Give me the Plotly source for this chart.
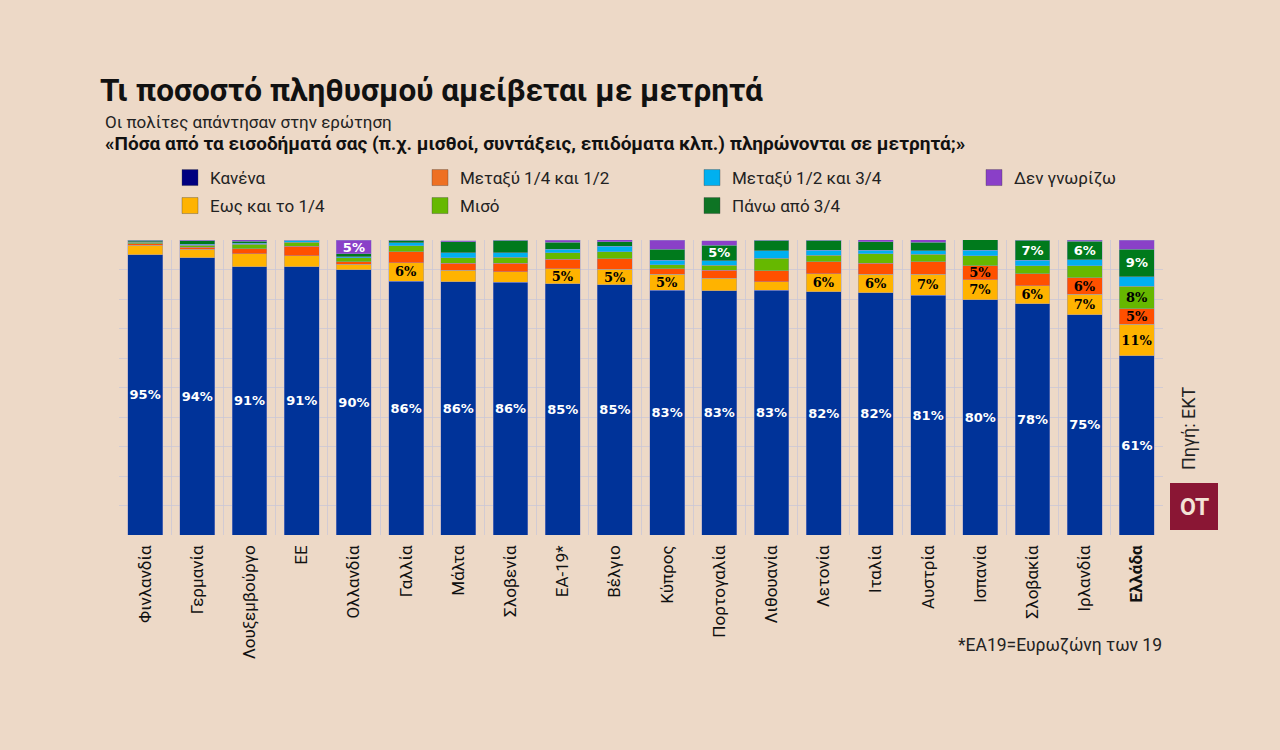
import plotly.graph_objects as go

# ---------------- data ----------------
countries = ["Φινλανδία", "Γερμανία", "Λουξεμβούργο", "ΕΕ", "Ολλανδία", "Γαλλία", "Μάλτα",
             "Σλοβενία", "ΕΑ-19*", "Βέλγιο", "Κύπρος", "Πορτογαλία", "Λιθουανία", "Λετονία",
             "Ιταλία", "Αυστρία", "Ισπανία", "Σλοβακία", "Ιρλανδία", "Ελλάδα"]

kanena = [95.0, 94.0, 91.0, 91.0, 90.0, 86.1, 85.8, 85.6, 85.2, 84.8, 83.0, 82.8, 83.0, 82.4,
          82.1, 81.2, 79.7, 78.4, 74.6, 60.7]
eos_1_4 = [3.3, 2.9, 4.3, 3.6, 1.7, 6.2, 3.9, 3.6, 5.0, 5.3, 5.4, 4.3, 2.9, 6.1, 6.3, 7.2, 6.8,
           6.1, 7.0, 10.8]
metaxy_14_12 = [0.5, 0.7, 1.8, 3.2, 0.9, 3.8, 2.5, 2.9, 3.2, 3.6, 1.8, 2.7, 3.6, 4.1, 3.8, 4.3,
                4.7, 4.1, 5.6, 5.2]
miso = [0.4, 0.7, 1.4, 1.5, 1.4, 2.0, 1.8, 2.0, 2.3, 2.3, 1.4, 1.6, 4.3, 2.3, 3.2, 2.5, 3.4,
        2.7, 4.1, 7.7]
metaxy_12_34 = [0.2, 0.3, 0.45, 0.7, 0.3, 0.9, 1.6, 1.6, 1.1, 1.8, 1.6, 1.6, 2.5, 1.6, 1.1, 1.1,
                2.0, 1.8, 2.0, 3.2]
pano_34 = [0.6, 1.1, 0.7, 0.0, 1.0, 0.9, 3.8, 4.3, 2.5, 1.6, 3.6, 5.2, 3.6, 3.4, 2.9, 2.9, 3.6,
           6.8, 6.2, 9.3]
den_gnorizo = [0.0, 0.2, 0.45, 0.0, 4.6, 0.1, 0.4, 0.0, 0.7, 0.7, 3.2, 1.6, 0.0, 0.0, 0.7, 0.9,
               0.0, 0.2, 0.4, 3.1]

series_names = ["Κανένα", "Εως και το 1/4", "Μεταξύ 1/4 και 1/2", "Μισό",
                "Μεταξύ 1/2 και 3/4", "Πάνω από 3/4", "Δεν γνωρίζω"]
series_values = [kanena, eos_1_4, metaxy_14_12, miso, metaxy_12_34, pano_34, den_gnorizo]

# ---------------- styles ----------------
BG = "#EDD9C7"
bar_colors = ["#003399", "#FFB300", "#FF5000", "#66B800", "#00B0F0", "#007A1C", "#8A40C8"]
legend_colors = ["#000080", "#FFB300", "#EE7022", "#66B800", "#00B0F0", "#0E7424", "#8A3FC8"]
label_white = [True, False, False, False, True, True, True]
# order: Κανένα(r1c1), Εως(r2c1), 1/4-1/2(r1c2), Μισό(r2c2), 1/2-3/4(r1c3), Πάνω(r2c3), Δεν(r1c4)
legend_ids = ["legend", "legend2", "legend3", "legend4", "legend5", "legend6", "legend7"]
legend_pos = {
    "legend": (210, 178), "legend2": (210, 206),
    "legend3": (460, 178), "legend4": (460, 206),
    "legend5": (732, 178), "legend6": (732, 206),
    "legend7": (1014, 178),
}

W, H = 1280, 750
L, R, T, B = 119, 1163, 239.7, 535


def px(x):
    return (x - L) / (R - L)


def py(y):
    return (B - y) / (B - T)


tick_text = [f"<b>{c}</b>" if c == "Ελλάδα" else c for c in countries]

fig = go.Figure()
for name, vals, col, white in zip(series_names, series_values, bar_colors, label_white):
    texts = []
    for v in vals:
        r = int(v + 0.5)
        texts.append(f"{r}%" if r >= 5 else "")
    fig.add_trace(go.Bar(
        x=countries, y=vals, name=name, showlegend=False,
        marker=dict(color=col, line=dict(color="rgba(150,150,200,0.55)", width=0.8)),
        text=texts, texttemplate="%{text}", textposition="inside",
        insidetextanchor="middle", textangle=0,
        insidetextfont=dict(
            family="DejaVu Sans" if white else "DejaVu Serif",
            size=13, color="white" if white else "black", weight="bold"),
        hoverinfo="x+y+name",
    ))

for name, col, lid in zip(series_names, legend_colors, legend_ids):
    fig.add_trace(go.Scatter(
        x=[None], y=[None], mode="markers", name=name, legend=lid,
        marker=dict(symbol="square", size=16, color=col,
                    line=dict(color="rgba(60,60,60,0.35)", width=1)),
        hoverinfo="skip",
    ))

layout_legends = {}
for lid in legend_ids:
    tx, ty = legend_pos[lid]
    layout_legends[lid] = dict(
        xref="container", yref="container",
        x=(tx - 40) / W, y=1 - ty / H, xanchor="left", yanchor="middle",
        bgcolor="rgba(0,0,0,0)", borderwidth=0,
        font=dict(family="Roboto", size=17, color="#222"),
        itemclick=False, itemdoubleclick=False,
    )

grid_col = "rgba(200,198,215,0.75)"
fig.update_layout(
    width=W, height=H,
    margin=dict(l=L, r=W - R, t=T, b=H - B, autoexpand=False),
    paper_bgcolor=BG, plot_bgcolor=BG,
    barmode="stack", bargap=0.33,
    uniformtext=dict(minsize=13, mode="show"),
    font=dict(family="Roboto", color="#111"),
    xaxis=dict(
        tickmode="array", tickvals=countries, ticktext=tick_text,
        tickangle=-90, tickfont=dict(family="Roboto", size=17, color="#111"),
        showgrid=True, gridcolor=grid_col, gridwidth=1, tickson="boundaries",
        ticks="", ticklabelstandoff=6, showline=False, zeroline=False,
        range=[-0.5, len(countries) - 0.5], fixedrange=True,
    ),
    yaxis=dict(
        range=[0, 100], dtick=10, showgrid=True, gridcolor=grid_col, gridwidth=1,
        showticklabels=False, zeroline=False, showline=False, fixedrange=True,
    ),
    showlegend=True,
    **layout_legends,
)

annotations = [
    dict(text="<b>Τι ποσοστό πληθυσμού αμείβεται με μετρητά</b>", x=px(98), y=py(90),
         xanchor="left", yanchor="middle", font=dict(family="Roboto", size=31.5, color="#111")),
    dict(text="Οι πολίτες απάντησαν στην ερώτηση", x=px(103), y=py(122),
         xanchor="left", yanchor="middle", font=dict(family="Roboto", size=17, color="#222")),
    dict(text="<b>«Πόσα από τα εισοδήματά σας (π.χ. μισθοί, συντάξεις, επιδόματα κλπ.) πληρώνονται σε μετρητά;»</b>",
         x=px(103), y=py(143), xanchor="left", yanchor="middle",
         font=dict(family="Roboto", size=19, color="#111")),
    dict(text="Πηγή: ΕΚΤ", x=px(1188), y=py(428), textangle=-90,
         xanchor="center", yanchor="middle", font=dict(family="Roboto", size=18, color="#222")),
    dict(text="<b>OT</b>", x=px(1194), y=py(507), xanchor="center", yanchor="middle",
         font=dict(family="Roboto", size=23, color="#F3E3D6")),
    dict(text="*ΕΑ19=Ευρωζώνη των 19", x=px(1164), y=py(645), xanchor="right",
         yanchor="middle", font=dict(family="Roboto", size=17.5, color="#222")),
]
for a in annotations:
    a.update(xref="paper", yref="paper", showarrow=False)
fig.update_layout(annotations=annotations)

fig.add_shape(type="rect", xref="paper", yref="paper",
              x0=px(1170), x1=px(1218), y0=py(530), y1=py(483),
              fillcolor="#8A1634", line=dict(width=0), layer="above")

fig.write_html(
    "out.html",
    config={"displayModeBar": False},
    post_script=(
        "document.body.style.margin='0';document.body.style.padding='0';"
        f"document.body.style.background='{BG}';"
        "document.documentElement.style.overflow='hidden';"
    ),
)
